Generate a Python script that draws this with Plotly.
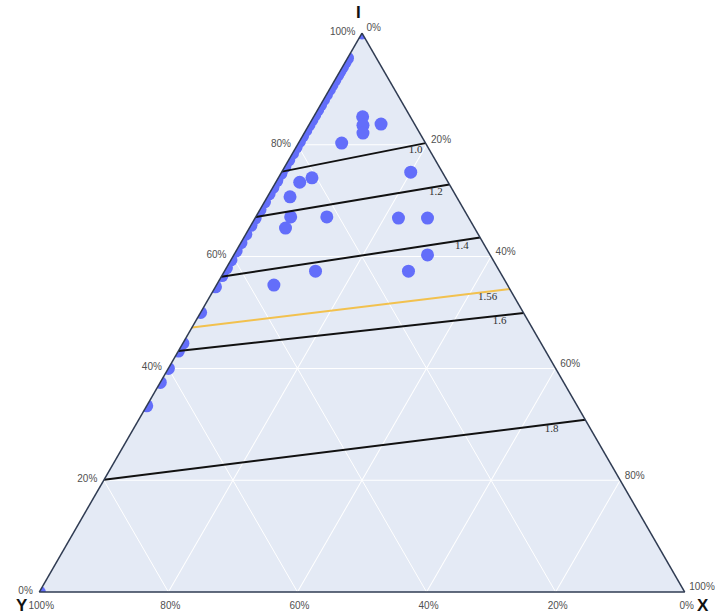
import plotly.graph_objects as go

# Samples lying on the I–Y edge (X = 0), in percent of I
edge_I = [100.0, 95.5, 94.8, 94.0, 93.2, 92.5, 91.6, 90.7, 89.9, 89.0, 88.1,
          87.2, 86.3, 85.4, 84.5, 83.6, 82.6, 81.6, 80.6, 79.6, 78.5, 77.3,
          76.1, 74.9, 73.6, 72.4, 71.2, 69.8, 68.4, 66.9, 65.6, 64.0, 62.5,
          61.0, 59.4, 58.0, 56.6, 54.6, 50.0, 44.5, 43.1, 40.0, 37.5, 33.3, 0.0]
edge_Y = [100.0 - v for v in edge_I]
edge_X = [0.0 for _ in edge_I]

# Samples inside the diagram (percent)
pts_I = [85.0, 83.5, 82.1, 83.7, 80.3, 75.1, 66.9, 66.9, 60.3, 57.4,
         73.3, 74.1, 70.7, 67.1, 65.1, 67.1, 57.4, 54.9]
pts_Y = [7.4, 8.1, 8.8, 5.2, 13.0, 4.9, 10.9, 6.4, 9.7, 14.1,
         23.0, 20.7, 25.8, 27.5, 29.3, 21.9, 28.5, 36.2]
pts_X = [7.6, 8.4, 9.1, 11.1, 6.7, 20.0, 22.2, 26.7, 30.0, 28.5,
         3.7, 5.2, 3.5, 5.4, 5.6, 11.0, 14.1, 8.9]

# Iso-lines: I (%) where each line meets the I–Y edge and the I–X edge
levels = ["1.0", "1.2", "1.4", "1.56", "1.6", "1.8"]
iso_I_left = [75.2, 67.1, 56.4, 47.3, 43.1, 20.1]
iso_I_right = [80.3, 72.9, 63.4, 54.2, 49.9, 30.8]

# Axis ticks
tick_vals = [0, 20, 40, 60, 80, 100]
tick_text = ["0%", "20%", "40%", "60%", "80%", "100%"]

BLUE = "#636efa"
LINE_COLORS = {"1.56": "#f2c14e"}
LABEL_POS = 0.93  # fraction along each iso-line where its value is written

fig = go.Figure()

fig.add_trace(go.Scatterternary(
    a=edge_I, b=edge_Y, c=edge_X, mode="markers", cliponaxis=True,
    marker=dict(color=BLUE, size=13, line=dict(width=0)),
    showlegend=False, hoverinfo="skip",
))
fig.add_trace(go.Scatterternary(
    a=pts_I, b=pts_Y, c=pts_X, mode="markers", cliponaxis=True,
    marker=dict(color=BLUE, size=13, line=dict(width=0)),
    showlegend=False,
))

lab_a, lab_b, lab_c = [], [], []
for lev, il, ir in zip(levels, iso_I_left, iso_I_right):
    a0, b0, c0 = il, 100.0 - il, 0.0
    a1, b1, c1 = ir, 0.0, 100.0 - ir
    fig.add_trace(go.Scatterternary(
        a=[a0, a1], b=[b0, b1], c=[c0, c1], mode="lines",
        line=dict(color=LINE_COLORS.get(lev, "#111111"), width=2),
        showlegend=False, hoverinfo="skip",
    ))
    t = LABEL_POS
    lab_a.append(a0 + t * (a1 - a0))
    lab_b.append(b0 + t * (b1 - b0))
    lab_c.append(c0 + t * (c1 - c0))

fig.add_trace(go.Scatterternary(
    a=lab_a, b=lab_b, c=lab_c, mode="text", text=levels,
    textposition="bottom center",
    textfont=dict(family="Liberation Serif", size=11, color="#333333"),
    showlegend=False, hoverinfo="skip",
))

axis_common = dict(
    tickmode="array", tickvals=tick_vals, ticktext=tick_text,
    ticks="outside", ticklen=4, tickcolor="rgba(0,0,0,0)",
    tickfont=dict(family="Liberation Sans", size=10, color="#505050"),
    showgrid=True, gridcolor="#ffffff", gridwidth=1,
    showline=True, linecolor="#2f3b52", linewidth=1.5,
    min=0, title=dict(text=""),
)

# Corner titles
title_font = dict(family="Liberation Sans", size=17, color="#111111", weight="bold")
corner_titles = [("I", 0.494, 1.037), ("Y", -0.012, -0.024), ("X", 1.0135, -0.025)]

fig.update_layout(
    width=715, height=616,
    margin=dict(l=30, r=21, t=33, b=24),
    paper_bgcolor="white",
    showlegend=False,
    ternary=dict(
        sum=100,
        bgcolor="#e4eaf5",
        aaxis=axis_common,
        baxis=axis_common,
        caxis=axis_common,
    ),
    annotations=[
        dict(text=txt, x=x, y=y, xref="paper", yref="paper",
             xanchor="center", yanchor="middle", showarrow=False, font=title_font)
        for txt, x, y in corner_titles
    ],
)

fig.write_html("out.html")
